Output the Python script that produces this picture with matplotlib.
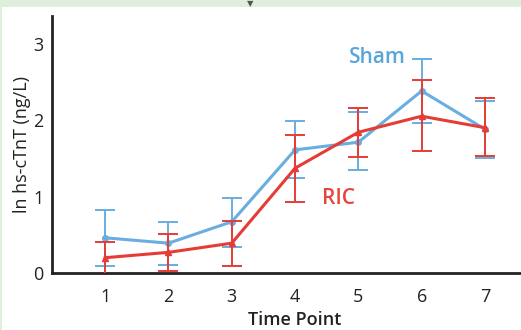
import numpy as np
import matplotlib
matplotlib.use("Agg")
import matplotlib.pyplot as plt
from matplotlib.patches import Rectangle

plt.rcParams['font.family'] = ['Open Sans', 'DejaVu Sans']

time_points = [1, 2, 3, 4, 5, 6, 7]

sham_mean = [0.46, 0.39, 0.67, 1.61, 1.71, 2.38, 1.88]
sham_hi = [0.82, 0.67, 0.98, 1.99, 2.10, 2.80, 2.25]
sham_lo = [0.09, 0.10, 0.34, 1.24, 1.35, 1.96, 1.50]

ric_mean = [0.20, 0.27, 0.39, 1.37, 1.84, 2.05, 1.90]
ric_hi = [0.41, 0.51, 0.68, 1.80, 2.16, 2.52, 2.29]
ric_lo = [-0.02, 0.03, 0.09, 0.93, 1.52, 1.59, 1.53]

blue = '#68aee0'
red = '#e63c36'

fig = plt.figure(figsize=(5.21, 3.30), dpi=100)
fig.patch.set_facecolor('white')
# green strip on top and left edge
fig.patches.append(Rectangle((0, 1 - 7/330), 1, 7/330, transform=fig.transFigure,
                             facecolor='#deefdc', edgecolor='none', zorder=0))
fig.patches.append(Rectangle((0, 0), 2/521, 1, transform=fig.transFigure,
                             facecolor='#deefdc', edgecolor='none', zorder=0))
fig.text(250/521, 1 - 4/330, u'\u25BC', fontsize=6, color='#555555',
         ha='center', va='center', family='DejaVu Sans')

ax = fig.add_axes([52/521, 57/330, 469/521, 257/330])

t = np.array(time_points)
sm = np.array(sham_mean)
rm = np.array(ric_mean)

ax.errorbar(t, sm, yerr=[sm - np.array(sham_lo), np.array(sham_hi) - sm],
            color=blue, lw=2.2, marker='o', ms=4, ecolor=blue, elinewidth=1.4,
            capsize=7, capthick=1.4, zorder=3)
ax.errorbar(t, rm, yerr=[rm - np.array(ric_lo), np.array(ric_hi) - rm],
            color=red, lw=2.2, marker='^', ms=5, ecolor=red, elinewidth=1.4,
            capsize=7, capthick=1.4, zorder=4)

ax.text(5.3, 2.82, 'Sham', color='#5aa5da', fontsize=15, fontweight='semibold',
        ha='center', va='center')
ax.text(4.68, 0.97, 'RIC', color='#e6443c', fontsize=15, fontweight='semibold',
        ha='center', va='center')

ax.set_xlim(0.16, 7.57)
ax.set_ylim(0, 3.36)
ax.set_xticks(time_points)
ax.set_yticks([0, 1, 2, 3])
ax.tick_params(length=0, labelsize=13, colors='#222222')
ax.tick_params(axis='x', pad=11)
ax.tick_params(axis='y', pad=6)

for s in ['top', 'right']:
    ax.spines[s].set_visible(False)
for s in ['left', 'bottom']:
    ax.spines[s].set_linewidth(2)
    ax.spines[s].set_color('#222222')

ax.set_ylabel('ln hs-cTnT (ng/L)', fontsize=13, color='#222222')
ax.set_xlabel('Time Point', fontsize=13, fontweight='semibold', color='#222222')
ax.xaxis.set_label_coords((4 - 0.16) / (7.57 - 0.16), -0.148)
ax.yaxis.set_label_coords(-0.045, 0.5)

fig.savefig('out.png', dpi=100, facecolor=fig.get_facecolor())
